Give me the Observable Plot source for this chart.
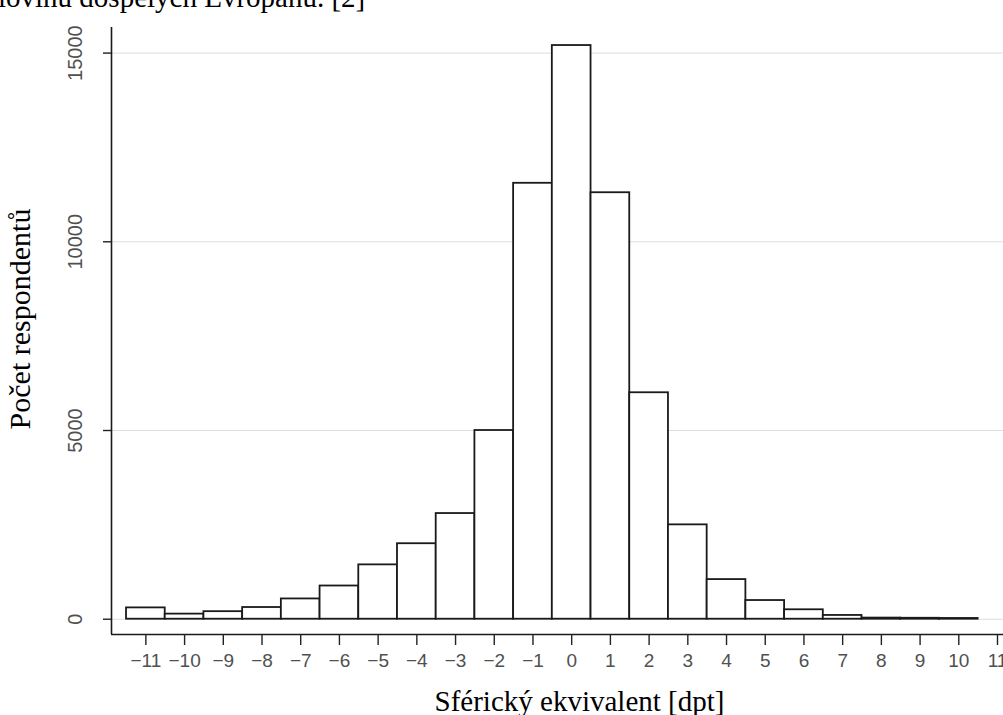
<!DOCTYPE html>
<html><head><meta charset="utf-8">
<script src="https://cdn.jsdelivr.net/npm/d3@7"></script>
<script src="https://cdn.jsdelivr.net/npm/@observablehq/plot@0.6"></script>
<style>
body{margin:0;background:#fff;overflow:hidden}
#hdr{height:14px;overflow:hidden;font-family:"Liberation Serif","Times New Roman",serif;font-size:29px;white-space:nowrap;color:#000}
#hdr div{margin-top:-17px;margin-left:-2px;line-height:29px}
#chart svg{display:block}
</style></head><body>
<div id="hdr"><div id="hdrText"></div></div>
<div id="chart"></div>
<script>
const headerText = "lovinu dospělých Evropanů. [2]";
const categories = [-11,-10,-9,-8,-7,-6,-5,-4,-3,-2,-1,0,1,2,3,4,5,6,7,8,9,10];
const counts     = [300,135,200,310,537,880,1440,2000,2800,5000,11550,15200,11300,6000,2500,1050,495,250,100,30,25,20];
const xTicks = [-11,-10,-9,-8,-7,-6,-5,-4,-3,-2,-1,0,1,2,3,4,5,6,7,8,9,10,11];
const yTicks = [0,5000,10000,15000];
const xLabel = "Sférický ekvivalent [dpt]";
const yLabel = "Počet respondentů";
const xDomain = [-11.888, 11.155];
const yDomain = [-405, 15678];

document.getElementById("hdrText").textContent = headerText;

const data = categories.map((c, i) => ({x: c, count: counts[i]}));
const sans = "'Liberation Sans', Arial, Helvetica, sans-serif";
const serif = "'Liberation Serif', 'Times New Roman', serif";

const chart = Plot.plot({
  width: 1003,
  height: 701,
  marginLeft: 111,
  marginRight: 0,
  marginTop: 13,
  marginBottom: 81,
  style: {background: "#fff", fontFamily: sans},
  x: {type: "linear", domain: xDomain},
  y: {type: "linear", domain: yDomain},
  marks: [
    Plot.gridY(yTicks, {stroke: "#dcdcdc", strokeOpacity: 1, strokeWidth: 1}),
    Plot.rect(data, {x1: d => d.x - 0.5, x2: d => d.x + 0.5, y1: d => 0, y2: "count",
      fill: "white", stroke: "#1a1a1a", strokeWidth: 1.8}),
    Plot.ruleX([xDomain[0]], {stroke: "#1a1a1a", strokeWidth: 1.6}),
    Plot.ruleY([yDomain[0]], {stroke: "#1a1a1a", strokeWidth: 1.6}),
    Plot.axisY(yTicks, {tickSize: 8, tickFormat: () => "", label: null, stroke: "#222", strokeWidth: 1.4}),
    Plot.text(yTicks, {x: xDomain[0], y: d => d, text: d => String(d), rotate: -90, dx: -36,
      fontSize: 20, fill: "#505050", fontFamily: sans}),
    Plot.axisX(xTicks, {tickSize: 11, tickPadding: 8, fontSize: 19, label: null,
      stroke: "#222", fill: "#505050", strokeWidth: 1.4, fontFamily: sans}),
    Plot.text([xLabel], {frameAnchor: "bottom", lineAnchor: "bottom", dx: 22, dy: 76,
      fontSize: 29, fontFamily: serif, fill: "#000"}),
    Plot.text([yLabel], {frameAnchor: "left", textAnchor: "middle", rotate: -90, dx: -91, dy: -12,
      fontSize: 30, fontFamily: serif, fill: "#000"})
  ]
});
document.getElementById("chart").appendChild(chart);
</script>
</body></html>
